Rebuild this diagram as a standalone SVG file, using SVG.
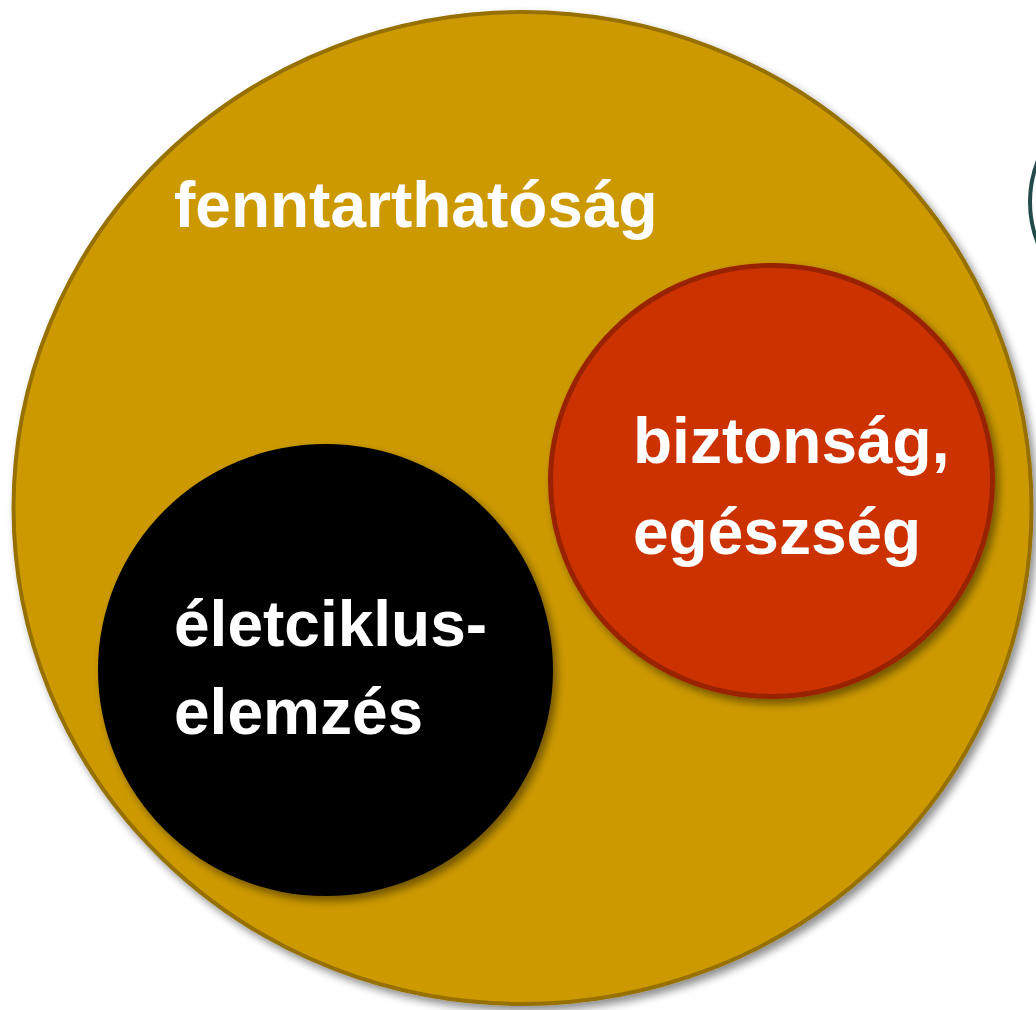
<svg xmlns="http://www.w3.org/2000/svg" width="1036" height="1010" viewBox="0 0 1036 1010">
  <style>
    .label { font-family: "Liberation Sans", Arial, sans-serif; font-weight: bold; font-size: 64px; fill: #ffffff; }
  </style>
  <defs>
    <filter id="shadow" x="-10%" y="-10%" width="125%" height="125%">
      <feGaussianBlur in="SourceAlpha" stdDeviation="4"/>
      <feOffset dx="4" dy="5" result="blur"/>
      <feComponentTransfer><feFuncA type="linear" slope="0.45"/></feComponentTransfer>
      <feMerge><feMergeNode/><feMergeNode in="SourceGraphic"/></feMerge>
    </filter>
  </defs>
  <rect width="1036" height="1010" fill="#ffffff"/>

  <!-- neighbouring shape, mostly off the right edge -->
  <g id="edge-ring">
    <circle cx="1142" cy="202" r="112" fill="#fdfdfd" stroke="#234b4b" stroke-width="4"/>
  </g>

  <g id="sustainability">
    <ellipse cx="522.5" cy="508" rx="509" ry="496" fill="#cc9900" stroke="#967000" stroke-width="4" filter="url(#shadow)"/>
    <text class="label" x="174" y="227">fenntarthatóság</text>
  </g>

  <g id="safety-health">
    <ellipse cx="771.5" cy="481" rx="221" ry="215.5" fill="#cc3300" stroke="#992200" stroke-width="5" filter="url(#shadow)"/>
    <text class="label" x="633" y="463">biztonság,</text>
    <text class="label" x="633" y="554">egészség</text>
  </g>

  <g id="life-cycle">
    <ellipse cx="325.5" cy="670" rx="227.5" ry="226" fill="#000000" filter="url(#shadow)"/>
    <text class="label" x="174" y="646">életciklus-</text>
    <text class="label" x="174" y="734">elemzés</text>
  </g>

  <g id="connectors"></g>
</svg>
